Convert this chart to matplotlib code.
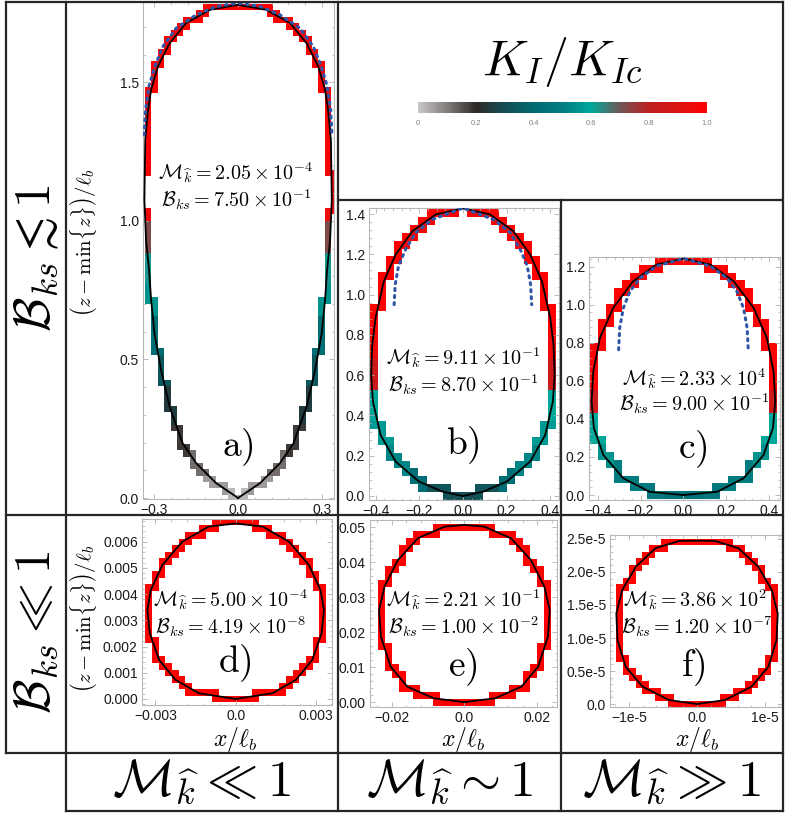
import numpy as np
import matplotlib
matplotlib.use('Agg')
import matplotlib.pyplot as plt
from matplotlib.colors import LinearSegmentedColormap
from matplotlib.path import Path
from matplotlib.ticker import AutoMinorLocator

plt.rcParams['mathtext.fontset'] = 'cm'
plt.rcParams['font.family'] = ['Liberation Sans', 'DejaVu Sans']

W, H = 789, 819

# colour scale K_I / K_Ic
cbar_stops = [0.0, 0.1, 0.2, 0.3, 0.4, 0.5, 0.6, 0.7, 0.8, 0.9, 1.0]
cbar_colors = ['#c8c8c8', '#827c7a', '#2e2a28', '#144e54', '#006a72', '#007c80',
               '#00a89a', '#6e5656', '#be1e1e', '#dc1414', '#ff0000']
cbar_ticks = [0, 0.2, 0.4, 0.6, 0.8, 1.0]
cbar_ticklabels = ['0', '0.2', '0.4', '0.6', '0.8', '1.0']

# fracture footprints: right half (x) vs height z, with K_I/K_Ic along the front
a_z = [0.0, 0.054, 0.126, 0.197, 0.33, 0.46, 0.594, 0.715, 0.82, 0.93, 1.076, 1.29, 1.40, 1.473, 1.557, 1.641, 1.714, 1.762, 1.78]
a_x = [0.0, 0.079, 0.15, 0.198, 0.245, 0.275, 0.299, 0.311, 0.318, 0.329, 0.335, 0.332, 0.322, 0.311, 0.287, 0.245, 0.186, 0.10, 0.0]
a_k = [0.02, 0.06, 0.12, 0.18, 0.25, 0.33, 0.42, 0.55, 0.62, 0.72, 0.95, 1.0, 1.0, 1.0, 1.0, 1.0, 1.0, 1.0, 1.0]
a_tip_z = [1.31, 1.40, 1.485, 1.557, 1.629, 1.696, 1.744, 1.774, 1.786]
a_tip_x = [0.336, 0.331, 0.319, 0.298, 0.269, 0.221, 0.149, 0.078, 0.0]

b_z = [0.0, 0.021, 0.071, 0.171, 0.303, 0.469, 0.602, 0.751, 0.884, 1.066, 1.199, 1.315, 1.398, 1.428]
b_x = [0.0, 0.092, 0.20, 0.308, 0.377, 0.412, 0.42, 0.415, 0.40, 0.362, 0.308, 0.231, 0.124, 0.0]
b_k = [0.3, 0.32, 0.42, 0.52, 0.57, 0.6, 0.85, 0.95, 1.0, 1.0, 1.0, 1.0, 1.0, 1.0]
b_tip_z = [0.95, 1.05, 1.141, 1.224, 1.307, 1.373, 1.43]
b_tip_x = [0.315, 0.31, 0.295, 0.263, 0.217, 0.14, 0.0]

c_z = [0.0, 0.017, 0.088, 0.21, 0.351, 0.491, 0.649, 0.825, 0.983, 1.123, 1.21, 1.242]
c_x = [0.0, 0.157, 0.28, 0.373, 0.417, 0.428, 0.42, 0.389, 0.327, 0.234, 0.126, 0.0]
c_k = [0.45, 0.48, 0.5, 0.55, 0.6, 0.85, 1.0, 1.0, 1.0, 1.0, 1.0, 1.0]
c_tip_z = [0.763, 0.877, 0.982, 1.07, 1.14, 1.202, 1.242]
c_tip_x = [0.302, 0.297, 0.28, 0.249, 0.202, 0.125, 0.0]

d_z = [0.0, 0.00022, 0.00073, 0.00149, 0.00251, 0.0034, 0.00416, 0.00511, 0.006, 0.00658, 0.0067]
d_x = [0.0, 0.00138, 0.00225, 0.00286, 0.00321, 0.0033, 0.00317, 0.00274, 0.002, 0.00101, 0.0]
d_k = [1.0, 1.0, 1.0, 1.0, 1.0, 1.0, 1.0, 1.0, 1.0, 1.0, 1.0]

e_z = [0.0, 0.0011, 0.0044, 0.0101, 0.0187, 0.0263, 0.033, 0.0406, 0.0468, 0.0501, 0.0506]
e_x = [0.0, 0.0085, 0.0157, 0.0203, 0.023, 0.0235, 0.022, 0.0183, 0.0128, 0.0055, 0.0]
e_k = [1.0, 1.0, 1.0, 1.0, 1.0, 1.0, 1.0, 1.0, 1.0, 1.0, 1.0]

f_z = [0.0, 0.06e-5, 0.262e-5, 0.565e-5, 0.97e-5, 1.374e-5, 1.727e-5, 2.08e-5, 2.36e-5, 2.47e-5, 2.474e-5]
f_x = [0.0, 0.41e-5, 0.8e-5, 1.05e-5, 1.17e-5, 1.187e-5, 1.1e-5, 0.9e-5, 0.61e-5, 0.265e-5, 0.0]
f_k = [1.0, 1.0, 1.0, 1.0, 1.0, 1.0, 1.0, 1.0, 1.0, 1.0, 1.0]

# parameters written in each panel
m_values = ['2.05', '9.11', '2.33', '5.00', '2.21', '3.86']
m_exps = ['-4', '-1', '4', '-4', '-1', '2']
b_values = ['7.50', '8.70', '9.00', '4.19', '1.00', '1.20']
b_exps = ['-1', '-1', '-1', '-8', '-2', '-7']
panel_names = ['a)', 'b)', 'c)', 'd)', 'e)', 'f)']

# tick labels
a_xt, a_xtl = [-0.3, 0.0, 0.3], ['\u22120.3', '0.0', '0.3']
a_yt, a_ytl = [0.0, 0.5, 1.0, 1.5], ['0.0', '0.5', '1.0', '1.5']
bc_xt = [-0.4, -0.2, 0.0, 0.2, 0.4]
bc_xtl = ['\u22120.4', '\u22120.2', '0.0', '0.2', '0.4']
b_yt = [0.0, 0.2, 0.4, 0.6, 0.8, 1.0, 1.2, 1.4]
b_ytl = ['0.0', '0.2', '0.4', '0.6', '0.8', '1.0', '1.2', '1.4']
c_yt = [0.0, 0.2, 0.4, 0.6, 0.8, 1.0, 1.2]
c_ytl = ['0.0', '0.2', '0.4', '0.6', '0.8', '1.0', '1.2']
d_xt, d_xtl = [-0.003, 0.0, 0.003], ['\u22120.003', '0.0', '0.003']
d_yt = [0.0, 0.001, 0.002, 0.003, 0.004, 0.005, 0.006]
d_ytl = ['0.000', '0.001', '0.002', '0.003', '0.004', '0.005', '0.006']
e_xt, e_xtl = [-0.02, 0.0, 0.02], ['\u22120.02', '0.0', '0.02']
e_yt = [0.0, 0.01, 0.02, 0.03, 0.04, 0.05]
e_ytl = ['0.00', '0.01', '0.02', '0.03', '0.04', '0.05']
f_xt, f_xtl = [-1e-5, 0.0, 1e-5], ['\u22121e-5', '0.0', '1e-5']
f_yt = [0.0, 0.5e-5, 1.0e-5, 1.5e-5, 2.0e-5, 2.5e-5]
f_ytl = ['0.0', '0.5e-5', '1.0e-5', '1.5e-5', '2.0e-5', '2.5e-5']

cmap = LinearSegmentedColormap.from_list('kic', list(zip(cbar_stops, cbar_colors)))

fig = plt.figure(figsize=(W / 100, H / 100), dpi=100)


def px_rect(l, t, r, b):
    return [l / W, 1 - b / H, (r - l) / W, (b - t) / H]


def draw_panel(rect, xh, zh, kh, cell, xlim, ylim, xt, xtl, yt, ytl, tip_x=None, tip_z=None):
    ax = fig.add_axes(px_rect(*rect))
    xh, zh, kh = np.asarray(xh), np.asarray(zh), np.asarray(kh)
    px = np.concatenate([xh, -xh[::-1][1:]])
    pz = np.concatenate([zh, zh[::-1][1:]])
    pk = np.concatenate([kh, kh[::-1][1:]])
    front = Path(np.column_stack([px, pz]))

    # mesh elements cut by the front
    cw, ch = cell
    nx = int(xh.max() / cw) + 3
    nz = int(zh.max() / ch) + 3
    gx = (np.arange(-nx, nx + 2) - 0.5) * cw
    gz = (np.arange(-3, nz + 2) - 0.5) * ch
    GX, GZ = np.meshgrid(gx, gz)
    inside = front.contains_points(np.column_stack([GX.ravel(), GZ.ravel()])).reshape(GX.shape)
    n_in = (inside[:-1, :-1].astype(int) + inside[1:, :-1] + inside[:-1, 1:] + inside[1:, 1:])
    edge = (n_in > 0) & (n_in < 4)
    cx = 0.5 * (GX[:-1, :-1] + GX[1:, 1:])
    cz = 0.5 * (GZ[:-1, :-1] + GZ[1:, 1:])
    dist = ((cx.ravel()[:, None] - px[None, :]) / cw) ** 2 + ((cz.ravel()[:, None] - pz[None, :]) / ch) ** 2
    kc = pk[np.argmin(dist, axis=1)].reshape(cx.shape)
    ax.pcolormesh(gx, gz, np.ma.masked_where(~edge, kc), cmap=cmap, vmin=0, vmax=1,
                  shading='flat', linewidth=0, zorder=1)

    ax.plot(px, pz, color='black', lw=1.3, zorder=3)
    if tip_x is not None:
        tx = np.asarray(tip_x)
        tz = np.asarray(tip_z)
        ax.plot(np.concatenate([-tx, tx[::-1][1:]]), np.concatenate([tz, tz[::-1][1:]]),
                color='#2f56a8', lw=2.2, linestyle=(0, (0.7, 1.6)), dash_capstyle='round', zorder=4)

    ax.set_xlim(*xlim)
    ax.set_ylim(*ylim)
    ax.set_xticks(xt, xtl)
    ax.set_yticks(yt, ytl)
    ax.xaxis.set_minor_locator(AutoMinorLocator(5))
    ax.yaxis.set_minor_locator(AutoMinorLocator(5))
    for s in ax.spines.values():
        s.set_color('#b8b8b8')
        s.set_linewidth(0.8)
    ax.tick_params(which='both', direction='in', top=True, right=True, color='#b0b0b0',
                   labelsize=10, labelcolor='#1a1a1a', pad=3)
    ax.tick_params(which='major', length=3.5, width=0.6)
    ax.tick_params(which='minor', length=1.8, width=0.5)
    return ax


draw_panel((143, 2, 334, 499), a_x, a_z, a_k, (0.023, 0.023), (-0.34, 0.343), (-0.0036, 1.79),
           a_xt, a_xtl, a_yt, a_ytl, a_tip_x, a_tip_z)
draw_panel((369, 208, 559, 500), b_x, b_z, b_k, (0.037, 0.039), (-0.43, 0.44), (-0.02, 1.43),
           bc_xt, bc_xtl, b_yt, b_ytl, b_tip_x, b_tip_z)
draw_panel((589, 257, 780, 500), c_x, c_z, c_k, (0.038, 0.041), (-0.44, 0.45), (-0.026, 1.25),
           bc_xt, bc_xtl, c_yt, c_ytl, c_tip_x, c_tip_z)
draw_panel((142, 519, 332, 705), d_x, d_z, d_k, (0.00025, 0.00025), (-0.0035, 0.0036), (-0.00023, 0.00687),
           d_xt, d_xtl, d_yt, d_ytl)
draw_panel((370, 520, 557, 707), e_x, e_z, e_k, (0.0019, 0.002), (-0.026, 0.0255), (-0.0014, 0.052),
           e_xt, e_xtl, e_yt, e_ytl)
draw_panel((610, 535, 782, 707), f_x, f_z, f_k, (0.95e-6, 0.98e-6), (-1.28e-5, 1.25e-5), (-0.045e-5, 2.56e-5),
           f_xt, f_xtl, f_yt, f_ytl)

# colour bar
cax = fig.add_axes(px_rect(418, 102, 707, 113))
sm = plt.cm.ScalarMappable(cmap=cmap, norm=plt.Normalize(0, 1))
cb = fig.colorbar(sm, cax=cax, orientation='horizontal')
cb.outline.set_visible(False)
cb.set_ticks(cbar_ticks, labels=cbar_ticklabels)
cax.tick_params(length=0, labelsize=5.5, labelcolor='#808080', pad=5)

# table layout, labels and annotations in pixel coordinates
ov = fig.add_axes([0, 0, 1, 1])
ov.set_xlim(0, W)
ov.set_ylim(H, 0)
ov.axis('off')
ov.set_zorder(10)

lc = '#262626'
lw = 1.6
ov.plot([6, 783], [2, 2], color=lc, lw=lw)
ov.plot([6, 6], [2, 753], color=lc, lw=lw)
ov.plot([783, 783], [2, 811], color=lc, lw=lw)
ov.plot([338, 783], [200, 200], color=lc, lw=lw)
ov.plot([6, 783], [515, 515], color=lc, lw=lw)
ov.plot([6, 783], [753, 753], color=lc, lw=lw)
ov.plot([66, 783], [811, 811], color=lc, lw=lw)
ov.plot([66, 66], [2, 811], color=lc, lw=lw)
ov.plot([338, 338], [2, 811], color=lc, lw=lw)
ov.plot([561, 561], [200, 811], color=lc, lw=lw)

ov.text(562, 62, r'$K_I/K_{Ic}$', fontsize=36, ha='center', va='center')
ov.text(36, 258, r'$\mathcal{B}_{ks} \lesssim 1$', fontsize=36, ha='center', va='center', rotation=90)
ov.text(36, 632, r'$\mathcal{B}_{ks} \ll 1$', fontsize=36, ha='center', va='center', rotation=90)
ov.text(202, 783, r'$\mathcal{M}_{\widehat{k}} \ll 1$', fontsize=37, ha='center', va='center')
ov.text(450, 783, r'$\mathcal{M}_{\widehat{k}} \sim 1$', fontsize=37, ha='center', va='center')
ov.text(672, 783, r'$\mathcal{M}_{\widehat{k}} \gg 1$', fontsize=37, ha='center', va='center')

ylab = r'$\left(z-\min\{z\}\right)/\ell_b$'
ov.text(84, 243, ylab, fontsize=15, ha='center', va='center', rotation=90)
ov.text(84, 619, ylab, fontsize=15, ha='center', va='center', rotation=90)
for xc in (235, 463, 697):
    ov.text(xc, 739, r'$x/\ell_b$', fontsize=17, ha='center', va='center')

line1_pos = [(236, 173), (463, 358), (694, 379), (231, 600), (463, 600), (695, 600)]
line2_pos = [(236, 200), (463, 385), (694, 404), (231, 627), (463, 627), (697, 627)]
name_pos = [(238, 447), (463, 445), (693, 449), (235, 663), (463, 667), (693, 667)]
for i in range(6):
    ov.text(*line1_pos[i], r'$\mathcal{M}_{\widehat{k}} = %s \times 10^{%s}$' % (m_values[i], m_exps[i]),
            fontsize=14.5, ha='center', va='center')
    ov.text(*line2_pos[i], r'$\mathcal{B}_{ks} = %s \times 10^{%s}$' % (b_values[i], b_exps[i]),
            fontsize=14.5, ha='center', va='center')
    ov.text(*name_pos[i], r'$\mathrm{%s}$' % panel_names[i], fontsize=27, ha='center', va='center')

fig.savefig('out.png', dpi=100)
plt.close(fig)
